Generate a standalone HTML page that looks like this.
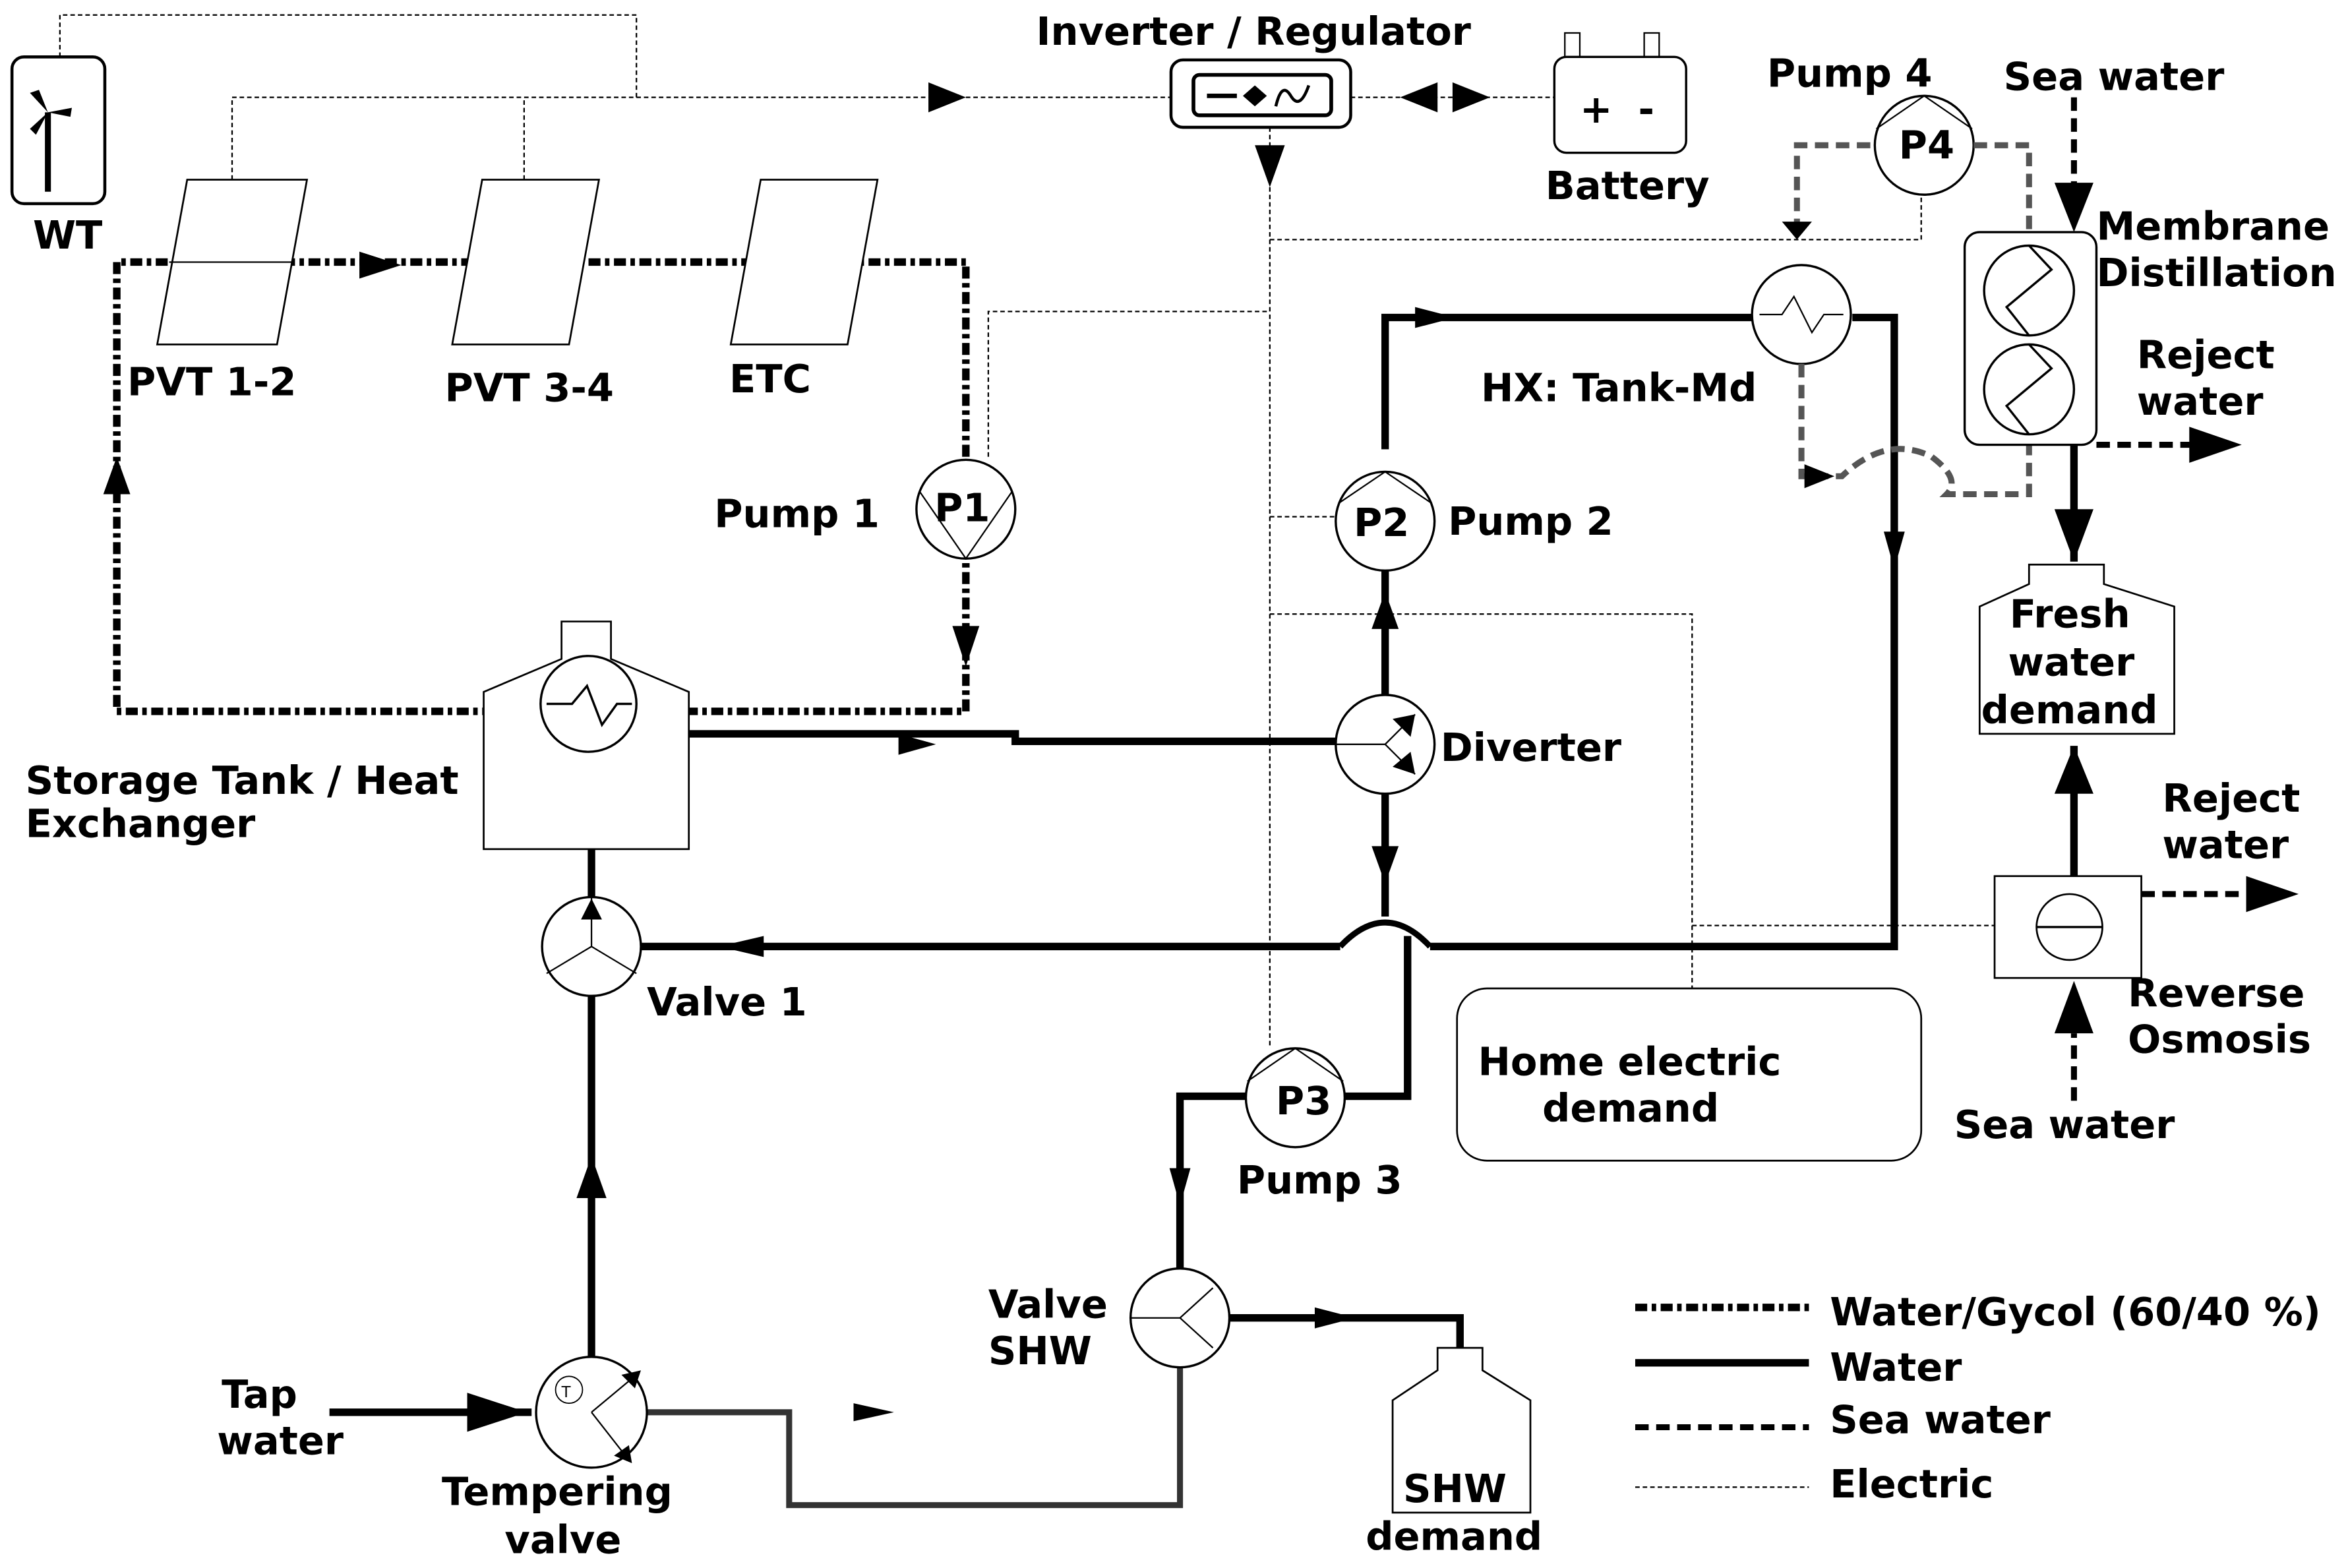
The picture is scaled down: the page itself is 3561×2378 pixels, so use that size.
<!DOCTYPE html>
<html><head><meta charset="utf-8"><style>
html,body{margin:0;padding:0;background:#fff;}
svg{display:block;}
text{font-family:"DejaVu Sans","Liberation Sans",sans-serif;font-weight:bold;font-size:26px;fill:#000;}
</style></head><body>
<svg width="3561" height="2378" viewBox="0 0 1568 1047" preserveAspectRatio="none" xmlns="http://www.w3.org/2000/svg">
<rect width="1568" height="1047" fill="#fff"/>
<g stroke="#000" stroke-width="1" stroke-dasharray="3,2" fill="none">
<path d="M40,38 V10 H425 V65"/>
<path d="M155,120 V65 H782"/>
<path d="M350,120 V65"/>
<path d="M848,85 V700"/>
<path d="M848,160 H1283 V130"/>
<path d="M660,305 V208 H848"/>
<path d="M848,345 H893"/>
<path d="M848,410 H1130 V660"/>
<path d="M1130,618 H1335"/>
<path d="M902,65 H1038"/>
</g>
<path d="M620,55 L645,65 L620,75z"/>
<path d="M838,97 L848,125 L858,97z"/>
<path d="M960,55 L935,65 L960,75z M970,55 L995,65 L970,75z"/>
<rect x="8" y="38" width="62" height="98" rx="8" fill="#fff" stroke="#000" stroke-width="2"/>
<line x1="32" y1="75" x2="32" y2="128" stroke="#000" stroke-width="4"/>
<path d="M32,75 L20,62 L26,60z M32,75 L48,72 L47,78z M32,75 L24,90 L20,86z"/>
<text x="22" y="166">WT</text>
<g stroke="#000" stroke-width="5" fill="none" stroke-dasharray="8,3,3,3">
<path d="M645,305 V175 H78 V475 H645 V373"/>
</g>
<path d="M240,168 L268,177 L240,186z"/>
<path d="M69,330 L78,305 L87,330z"/>
<path d="M636,418 L645,445 L654,418z"/>
<g fill="#fff" stroke="#000" stroke-width="1.2">
<polygon points="125,120 205,120 185,230 105,230"/>
<polygon points="322,120 400,120 380,230 302,230"/>
<polygon points="508,120 586,120 566,230 488,230"/>
</g>
<line x1="113" y1="175" x2="195" y2="175" stroke="#000" stroke-width="1"/>
<text x="85" y="264">PVT 1-2</text>
<text x="297" y="268">PVT 3-4</text>
<text x="487" y="262">ETC</text>
<text x="692" y="30">Inverter / Regulator</text>
<rect x="782" y="40" width="120" height="45" rx="8" fill="#fff" stroke="#000" stroke-width="2"/>
<rect x="797" y="50" width="92" height="27" rx="4" fill="#fff" stroke="#000" stroke-width="2.5"/>
<path d="M806,64 H826" stroke="#000" stroke-width="3"/>
<path d="M830,64 L838,57 L846,64 L838,71z" />
<path d="M852,71 Q856,54 862,64 Q868,74 874,57" stroke="#000" stroke-width="2" fill="none"/>
<rect x="1045" y="22" width="10" height="18" fill="#fff" stroke="#000"/>
<rect x="1098" y="22" width="10" height="18" fill="#fff" stroke="#000"/>
<rect x="1038" y="38" width="88" height="64" rx="8" fill="#fff" stroke="#000" stroke-width="1.5"/>
<text x="1055" y="82">+</text><text x="1094" y="82">-</text>
<text x="1032" y="133">Battery</text>
<g stroke="#000" stroke-width="5" fill="none">
<path d="M460,490 H678 V495 H893"/>
<path d="M925,300 V212 H1170"/>
<path d="M1237,212 H1265 V632 H955"/>
<path d="M895,632 H428"/>
<path d="M925,530 V612"/>
<path d="M940,625 V732 H897"/>
<path d="M832,732 H788 V848"/>
<path d="M821,880 H975 V900"/>
<path d="M395,665 V906"/>
<path d="M395,600 V567"/>
<path d="M220,943 H355"/>
<path d="M1385,297 V375"/>
<path d="M1385,585 V498"/>
<path d="M925,381 V464"/>
</g>
<path d="M895,632 Q925,600 955,632" stroke="#000" stroke-width="4" fill="none"/>
<g stroke="#333" stroke-width="4" fill="none"><path d="M432,943 H527 V1005 H788 V913"/></g>
<path d="M600,490 L625,497 L600,504z"/>
<path d="M945,205 L972,212 L945,219z"/>
<path d="M510,625 L480,632 L510,639z"/>
<path d="M1258,355 L1265,380 L1272,355z"/>
<path d="M916,565 L925,590 L934,565z"/>
<path d="M916,420 L925,395 L934,420z"/>
<path d="M781,780 L788,805 L795,780z"/>
<path d="M878,873 L905,880 L878,887z"/>
<path d="M385,800 L395,772 L405,800z"/>
<path d="M312,930 L352,943 L312,956z"/>
<path d="M570,937 L597,943 L570,949z"/>
<path d="M1372,340 L1385,375 L1398,340z"/>
<path d="M1372,530 L1385,498 L1398,530z"/>
<polygon points="323,462 375,440 375,415 408,415 408,440 460,462 460,567 323,567" fill="#fff" stroke="#000" stroke-width="1.2"/>
<circle cx="393" cy="470" r="32" fill="#fff" stroke="#000" stroke-width="1.5"/>
<path d="M365,470 L382,470 L392,458 L402,484 L412,470 L422,470" stroke="#000" stroke-width="1.5" fill="none"/>
<text x="17" y="530">Storage Tank / Heat</text>
<text x="17" y="559">Exchanger</text>
<g fill="#fff" stroke="#000" stroke-width="1.5">
<circle cx="645" cy="340" r="33"/><circle cx="925" cy="348" r="33"/>
<circle cx="865" cy="733" r="33"/><circle cx="1285" cy="97" r="33"/>
<circle cx="925" cy="497" r="33"/><circle cx="395" cy="632" r="33"/>
<circle cx="788" cy="880" r="33"/><circle cx="395" cy="943" r="37"/>
<circle cx="1203" cy="210" r="33"/>
</g>
<g stroke="#000" stroke-width="1" fill="none">
<path d="M614,328 L645,373 L676,328"/><path d="M894,336 L925,315 L956,336"/>
<path d="M833,722 L865,700 L897,722"/><path d="M1253,86 L1285,64 L1317,86"/>
<path d="M892,497 H925 L945,477 M925,497 L945,517"/>
<path d="M395,599 V632 L365,650 M395,632 L425,650"/>
<path d="M755,880 L788,880 L810,860 M788,880 L810,900"/>
<path d="M395,943 L425,918 M395,943 L420,975"/>
<path d="M1175,210 L1190,210 L1198,198 L1210,222 L1218,210 L1231,210"/>
</g>
<path d="M945,477 L930,480 L942,492z M945,517 L930,512 L942,502z"/>
<path d="M395,600 L388,614 L402,614z"/>
<path d="M428,915 L415,918 L424,927z M422,977 L410,972 L420,965z"/>
<circle cx="380" cy="928" r="9" fill="#fff" stroke="#000" stroke-width="0.8"/>
<text x="375" y="933" style="font-size:10px;font-weight:normal">T</text>
<text x="624" y="348">P1</text><text x="904" y="358">P2</text>
<text x="852" y="744">P3</text><text x="1268" y="106">P4</text>
<text x="477" y="352">Pump 1</text><text x="967" y="357">Pump 2</text>
<text x="826" y="797">Pump 3</text><text x="1180" y="58">Pump 4</text>
<text x="962" y="508">Diverter</text><text x="432" y="678">Valve 1</text>
<text x="660" y="880">Valve</text><text x="660" y="911">SHW</text>
<text x="148" y="940">Tap</text><text x="145" y="971">water</text>
<text x="295" y="1005">Tempering</text><text x="337" y="1037">valve</text>
<polygon points="930,935 960,915 960,900 990,900 990,915 1022,935 1022,1010 930,1010" fill="#fff" stroke="#000" stroke-width="1.2"/>
<text x="937" y="1003">SHW</text><text x="912" y="1035">demand</text>
<g stroke="#555" stroke-width="4" fill="none" stroke-dasharray="9,5">
<path d="M1200,155 V97 H1252"/><path d="M1318,97 H1355 V155"/>
<path d="M1203,243 V318 H1230 Q1260,290 1290,305 Q1310,320 1300,330 H1355 V297"/>
</g>
<g stroke="#000" stroke-width="4" fill="none" stroke-dasharray="9,5">
<path d="M1385,65 V140"/><path d="M1400,297 H1465"/>
<path d="M1430,597 H1500"/><path d="M1385,735 V690"/>
</g>
<path d="M1190,148 L1200,160 L1210,148z"/>
<path d="M1205,310 L1225,318 L1205,326z"/>
<path d="M1372,122 L1385,155 L1398,122z"/>
<path d="M1462,285 L1497,297 L1462,309z"/>
<path d="M1500,585 L1535,597 L1500,609z"/>
<path d="M1372,690 L1385,655 L1398,690z"/>
<rect x="1312" y="155" width="88" height="142" rx="10" fill="#fff" stroke="#000" stroke-width="1.5"/>
<circle cx="1355" cy="194" r="30" fill="#fff" stroke="#000" stroke-width="1.5"/>
<circle cx="1355" cy="260" r="30" fill="#fff" stroke="#000" stroke-width="1.5"/>
<path d="M1355,164 L1370,180 L1340,205 L1355,224 M1355,230 L1370,246 L1340,271 L1355,290" stroke="#000" stroke-width="1.5" fill="none"/>
<text x="1400" y="160">Membrane</text><text x="1400" y="191">Distillation</text>
<text x="1427" y="246">Reject</text><text x="1427" y="277">water</text>
<text x="1338" y="60">Sea water</text>
<text x="989" y="268">HX: Tank-Md</text>
<polygon points="1322,405 1355,390 1355,377 1405,377 1405,390 1452,405 1452,490 1322,490" fill="#fff" stroke="#000" stroke-width="1.2"/>
<text x="1342" y="419">Fresh</text><text x="1341" y="451">water</text><text x="1323" y="483">demand</text>
<rect x="1332" y="585" width="98" height="68" fill="#fff" stroke="#000" stroke-width="1.2"/>
<circle cx="1382" cy="619" r="22" fill="#fff" stroke="#000" stroke-width="1.2"/>
<line x1="1360" y1="619" x2="1404" y2="619" stroke="#000" stroke-width="1.5"/>
<text x="1444" y="542">Reject</text><text x="1444" y="573">water</text>
<text x="1421" y="672">Reverse</text><text x="1421" y="703">Osmosis</text>
<text x="1305" y="760">Sea water</text>
<rect x="973" y="660" width="310" height="115" rx="20" fill="#fff" stroke="#000" stroke-width="1.2"/>
<text x="987" y="718">Home electric</text><text x="1030" y="749">demand</text>
<line x1="1092" y1="873" x2="1208" y2="873" stroke="#000" stroke-width="5" stroke-dasharray="8,3,3,3"/>
<line x1="1092" y1="910" x2="1208" y2="910" stroke="#000" stroke-width="5"/>
<line x1="1092" y1="953" x2="1208" y2="953" stroke="#000" stroke-width="4" stroke-dasharray="9,5"/>
<line x1="1092" y1="993" x2="1208" y2="993" stroke="#000" stroke-width="1" stroke-dasharray="3,2"/>
<text x="1222" y="885">Water/Gycol (60/40 %)</text>
<text x="1222" y="922">Water</text>
<text x="1222" y="957">Sea water</text>
<text x="1222" y="1000">Electric</text>
</svg>
</body></html>
